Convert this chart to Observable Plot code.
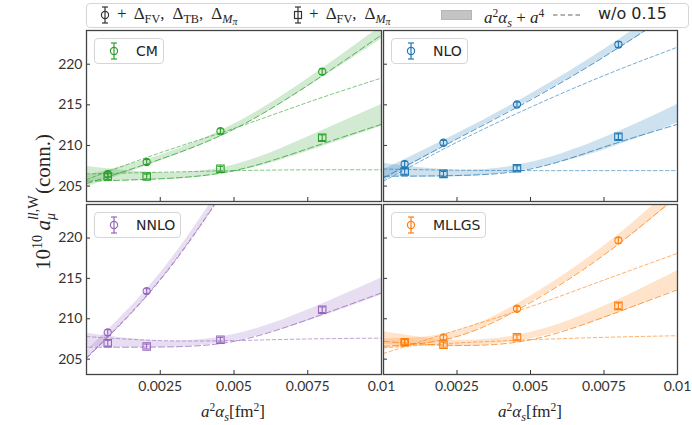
<!DOCTYPE html>
<html>
<head>
<meta charset="utf-8">
<script src="https://cdn.jsdelivr.net/npm/d3@7"></script>
<script src="https://cdn.jsdelivr.net/npm/@observablehq/plot@0.6"></script>
<style>
  body { margin: 0; background: #fff; }
  #fig { position: relative; width: 692px; height: 425px; overflow: hidden; font-family: "DejaVu Sans", sans-serif; color: #262626; }
  .panel { position: absolute; }
  .box { position: absolute; border: 1px solid #d6d6d6; border-radius: 4px; background: rgba(255,255,255,0.85); box-sizing: border-box; }
  .serif { font-family: "Liberation Serif", "DejaVu Serif", serif; }
  .abs { position: absolute; white-space: nowrap; }
  .sub { font-size: 0.72em; vertical-align: -0.3em; }
  .sup { font-size: 0.68em; vertical-align: 0.55em; }
  .sp { display: inline-block; width: 0.22em; }
</style>
</head>
<body>
<div id="fig"></div>
<script>
// ---- data ----------------------------------------------------------------
const panelNames = ["CM", "NLO", "NNLO", "MLLGS"];
const panelColors = ["#2ca02c", "#1f77b4", "#9467bd", "#ff7f0e"];

// lattice ensembles, a^2 alpha_s [fm^2]
const aSq = [0.00072, 0.00204, 0.00454, 0.00799];
const yTicks = [205, 210, 215, 220];
const xTicks = [0.0025, 0.005, 0.0075, 0.01];
const xTickLabels = ["0.0025", "0.005", "0.0075", "0.01"];

// abscissae at which the fit curves are tabulated
const fitX = [0, 0.0025, 0.005, 0.0075, 0.01];

// CM
const cmCircle = [206.46, 207.96, 211.75, 219.08];
const cmSquare = [206.17, 206.17, 207.13, 210.96];
const cmErr = [0.35, 0.3, 0.3, 0.35];
const cmUpMid = [205.6, 208.45, 212.25, 217.7, 223.9];
const cmUpHalf = [0.7, 0.35, 0.35, 0.5, 0.8];
const cmUpDash = [205.3, 208.3, 212.0, 217.4, 223.6];
const cmUpWo = [205.8, 209.1, 212.1, 215.3, 218.3];
const cmLoMid = [206.5, 206.2, 207.15, 210.15, 213.7];
const cmLoHalf = [0.9, 0.45, 0.45, 0.9, 1.35];
const cmLoDash = [205.6, 205.9, 206.9, 209.6, 212.6];
const cmLoWo = [206.5, 206.7, 206.9, 207.0, 207.0];

// NLO
const nloCircle = [207.7, 210.33, 215.04, 222.42];
const nloSquare = [206.8, 206.5, 207.2, 211.08];
const nloErr = [0.35, 0.3, 0.3, 0.35];
const nloUpMid = [206.3, 211.1, 215.95, 221.3, 227.3];
const nloUpHalf = [0.7, 0.35, 0.35, 0.5, 0.8];
const nloUpDash = [206.0, 210.8, 215.6, 220.9, 226.8];
const nloUpWo = [205.6, 210.4, 214.7, 218.6, 222.1];
const nloLoMid = [207.0, 206.55, 207.5, 210.2, 213.9];
const nloLoHalf = [0.8, 0.4, 0.4, 0.75, 1.15];
const nloLoDash = [206.2, 206.3, 207.1, 209.8, 212.6];
const nloLoWo = [207.1, 206.95, 206.9, 206.9, 206.9];

// NNLO
const nnloCircle = [208.3, 213.43];
const nnloSquare = [206.98, 206.57, 207.4, 211.12];
const nnloErr = [0.35, 0.3, 0.3, 0.35];
const nnloUpMid = [205.5, 215.2, 228.3, 243.5, 261.0];
const nnloUpHalf = [0.55, 0.45, 0.55, 0.7, 0.9];
const nnloUpDash = [205.1, 214.8, 227.8, 243.0, 260.4];
const nnloUpWo = [205.2, 214.9, 227.9, 243.1, 260.5];
const nnloLoMid = [207.4, 206.85, 207.65, 210.4, 214.0];
const nnloLoHalf = [0.8, 0.4, 0.4, 0.7, 1.05];
const nnloLoDash = [206.5, 206.5, 207.2, 209.9, 213.2];
const nnloLoWo = [207.8, 207.3, 207.3, 207.5, 207.6];

// MLLGS
const mllgsCircle = [207.1, 207.7, 211.24, 219.7];
const mllgsSquare = [207.1, 206.8, 207.7, 211.6];
const mllgsErr = [0.35, 0.3, 0.3, 0.35];
const mllgsUpMid = [206.9, 208.1, 212.4, 218.4, 225.8];
const mllgsUpHalf = [0.6, 0.4, 0.4, 0.6, 0.9];
const mllgsUpDash = [206.6, 207.8, 212.0, 217.9, 225.2];
const mllgsUpWo = [205.7, 208.6, 211.5, 214.8, 218.1];
const mllgsLoMid = [207.6, 206.95, 207.9, 210.8, 214.8];
const mllgsLoHalf = [0.8, 0.4, 0.4, 0.75, 1.15];
const mllgsLoDash = [207.2, 206.7, 207.4, 210.2, 213.6];
const mllgsLoWo = [206.4, 207.0, 207.4, 207.7, 207.9];

// ---- assemble -------------------------------------------------------------
const panelData = [
  {circle: cmCircle, square: cmSquare, err: cmErr,
   up: [cmUpMid, cmUpHalf, cmUpDash, cmUpWo], lo: [cmLoMid, cmLoHalf, cmLoDash, cmLoWo]},
  {circle: nloCircle, square: nloSquare, err: nloErr,
   up: [nloUpMid, nloUpHalf, nloUpDash, nloUpWo], lo: [nloLoMid, nloLoHalf, nloLoDash, nloLoWo]},
  {circle: nnloCircle, square: nnloSquare, err: nnloErr,
   up: [nnloUpMid, nnloUpHalf, nnloUpDash, nnloUpWo], lo: [nnloLoMid, nnloLoHalf, nnloLoDash, nnloLoWo]},
  {circle: mllgsCircle, square: mllgsSquare, err: mllgsErr,
   up: [mllgsUpMid, mllgsUpHalf, mllgsUpDash, mllgsUpWo], lo: [mllgsLoMid, mllgsLoHalf, mllgsLoDash, mllgsLoWo]}
];

// frame boxes of the 2x2 grid (pixels)
const frames = [
  {x: 86, y: 30, w: 295, h: 171},
  {x: 383, y: 30, w: 294, h: 171},
  {x: 86, y: 204, w: 295, h: 170},
  {x: 383, y: 204, w: 294, h: 170}
];
const ML = 44, MR = 6, MT = 6, MB = 32;
const yDomain = [203.1, 224.15];
const capHalf = 0.0001;

const fig = document.getElementById("fig");

function fitRows([mid, half, dash, wo]) {
  return fitX.map((x, k) => ({x, lo: mid[k] - half[k], hi: mid[k] + half[k], dash: dash[k], wo: wo[k]}));
}
function pointRows(vals, err) {
  return vals.map((v, k) => ({x: aSq[k], v, e: err[k]}));
}

panelData.forEach((p, i) => {
  const color = panelColors[i];
  const f = frames[i];
  const showY = i % 2 === 0;
  const showX = i >= 2;
  const fits = [fitRows(p.up), fitRows(p.lo)];
  const pts = [...pointRows(p.circle, p.err), ...pointRows(p.square, p.err)];
  const fitMarks = fits.flatMap((rows) => [
    Plot.areaY(rows, {x: "x", y1: "lo", y2: "hi", curve: "natural", fill: color, fillOpacity: 0.22, clip: true}),
    Plot.line(rows, {x: "x", y: "dash", curve: "natural", stroke: color, strokeOpacity: 0.75, strokeWidth: 1, strokeDasharray: "6,3", clip: true}),
    Plot.line(rows, {x: "x", y: "wo", curve: "natural", stroke: color, strokeOpacity: 0.6, strokeWidth: 1, strokeDasharray: "3.5,2.5", clip: true})
  ]);
  const svg = Plot.plot({
    width: f.w + ML + MR,
    height: f.h + MT + MB,
    marginLeft: ML, marginRight: MR, marginTop: MT, marginBottom: MB,
    style: {background: "transparent", overflow: "visible", fontFamily: "Lato, sans-serif", fontSize: "14px", color: "#333"},
    x: {domain: [0, 0.01]},
    y: {domain: yDomain},
    marks: [
      ...fitMarks,
      Plot.ruleX(pts, {x: "x", y1: (d) => d.v - d.e, y2: (d) => d.v + d.e, stroke: color, strokeWidth: 1.1}),
      Plot.link(pts, {x1: (d) => d.x - capHalf, x2: (d) => d.x + capHalf, y1: (d) => d.v + d.e, y2: (d) => d.v + d.e, stroke: color, strokeWidth: 1.1}),
      Plot.link(pts, {x1: (d) => d.x - capHalf, x2: (d) => d.x + capHalf, y1: (d) => d.v - d.e, y2: (d) => d.v - d.e, stroke: color, strokeWidth: 1.1}),
      Plot.dot(pointRows(p.circle, p.err), {x: "x", y: "v", symbol: "circle", r: 3.6, stroke: color, fill: "none", strokeWidth: 1.1}),
      Plot.dot(pointRows(p.square, p.err), {x: "x", y: "v", symbol: "square", r: 4.2, stroke: color, fill: "none", strokeWidth: 1.1}),
      Plot.axisY({ticks: yTicks, label: null, tickSize: -4, tickPadding: 8, tickFormat: showY ? (d) => String(d) : () => ""}),
      Plot.axisX({ticks: xTicks, label: null, tickSize: -4, tickPadding: 11, tickFormat: showX ? (d) => xTickLabels[xTicks.indexOf(d)] : () => ""}),
      Plot.frame({stroke: "#444", strokeWidth: 1.3})
    ]
  });
  svg.classList.add("panel");
  svg.style.left = (f.x - ML) + "px";
  svg.style.top = (f.y - MT) + "px";
  fig.appendChild(svg);
});

// ---- legends ----------------------------------------------------------------
const ns = "http://www.w3.org/2000/svg";
function svgEl(w, h) {
  const s = document.createElementNS(ns, "svg");
  s.setAttribute("width", w); s.setAttribute("height", h);
  s.style.position = "absolute";
  return s;
}
function addShape(s, tag, attrs, color) {
  const e = document.createElementNS(ns, tag);
  for (const k in attrs) e.setAttribute(k, attrs[k]);
  e.setAttribute("stroke", color); e.setAttribute("fill", "none"); e.setAttribute("stroke-width", 1.2);
  s.appendChild(e);
  return e;
}
function errIcon(color, shape) {
  const s = svgEl(12, 20);
  addShape(s, "line", {x1: 6, y1: 2, x2: 6, y2: 18}, color);
  addShape(s, "line", {x1: 3, y1: 2, x2: 9, y2: 2}, color);
  addShape(s, "line", {x1: 3, y1: 18, x2: 9, y2: 18}, color);
  if (shape === "circle") addShape(s, "circle", {cx: 6, cy: 10, r: 3.6}, color);
  else addShape(s, "rect", {x: 2.5, y: 6.5, width: 7, height: 7}, color);
  return s;
}
function place(el, x, y) { el.style.left = x + "px"; el.style.top = y + "px"; fig.appendChild(el); return el; }
function div(cls, html, style) {
  const d = document.createElement("div");
  d.className = cls; d.innerHTML = html || "";
  if (style) Object.assign(d.style, style);
  return d;
}

// panel legends
const legendBoxes = [
  {x: 94, y: 38, w: 70, h: 26},
  {x: 391, y: 38, w: 77, h: 26},
  {x: 94, y: 212, w: 87, h: 26},
  {x: 391, y: 212, w: 95, h: 26}
];
legendBoxes.forEach((b, i) => {
  place(div("box", "", {width: b.w + "px", height: b.h + "px"}), b.x, b.y);
  place(errIcon(panelColors[i], "circle"), b.x + 14, b.y + 3);
  place(div("abs", panelNames[i], {fontSize: "14px", lineHeight: "18px"}), b.x + 42, b.y + 4);
});

// top legend
const mPi = "<i>M</i><span style='font-size:0.8em;vertical-align:-0.2em'><i>&pi;</i></span>";
place(div("box", "", {width: "603px", height: "25px"}), 86, 3);
place(errIcon("#333", "circle"), 99, 5);
place(div("abs serif", `+<span class="sp"></span> &Delta;<span class='sub'>FV</span>,<span class="sp"></span> &Delta;<span class='sub'>TB</span>,<span class="sp"></span> &Delta;<span class='sub'>${mPi}</span>`,
  {fontSize: "17px", lineHeight: "18px"}), 117, 5);
place(errIcon("#333", "square"), 292, 5);
place(div("abs serif", `+<span class="sp"></span> &Delta;<span class='sub'>FV</span>,<span class="sp"></span> &Delta;<span class='sub'>${mPi}</span>`,
  {fontSize: "17px", lineHeight: "18px"}), 309, 5);
place(div("abs", "", {width: "31px", height: "10px", background: "#c4c4c4", border: "1px solid #b5b5b5", boxSizing: "border-box"}), 441, 10);
place(div("abs serif", "<i>a</i><span class='sup'>2</span><i>&alpha;<span class='sub'>s</span></i> + <i>a</i><span class='sup'>4</span>",
  {fontSize: "17px", lineHeight: "18px"}), 484, 5);
const dashIcon = svgEl(28, 4);
addShape(dashIcon, "line", {x1: 0, y1: 2, x2: 28, y2: 2, "stroke-dasharray": "4.5,3"}, "#666");
place(dashIcon, 553, 13);
place(div("abs", "w/o 0.15", {fontSize: "16px", lineHeight: "18px"}), 598, 5);

// axis titles
[233, 530].forEach((cx) => {
  place(div("abs serif", "<i>a</i><span class='sup'>2</span><i>&alpha;<span class='sub'>s</span></i>[fm<span class='sup'>2</span>]",
    {fontSize: "17px", lineHeight: "19px", transform: "translateX(-50%)"}), cx, 398);
});
const stack = "<span style='display:inline-block;position:relative;width:26px;height:21px;'>" +
  "<span style='position:absolute;left:0;top:-2px;font-size:14px;line-height:14px'><i>ll</i>,W</span>" +
  "<span style='position:absolute;left:0;top:15px;font-size:14px;line-height:14px'><i>&mu;</i></span></span>";
place(div("abs serif",
  `10<span class='sup'>10</span>&thinsp;<i>a</i>${stack}(conn.)`,
  {fontSize: "21px", lineHeight: "24px", transform: "translate(-50%,-50%) rotate(-90deg)"}), 40, 202);
</script>
</body>
</html>
